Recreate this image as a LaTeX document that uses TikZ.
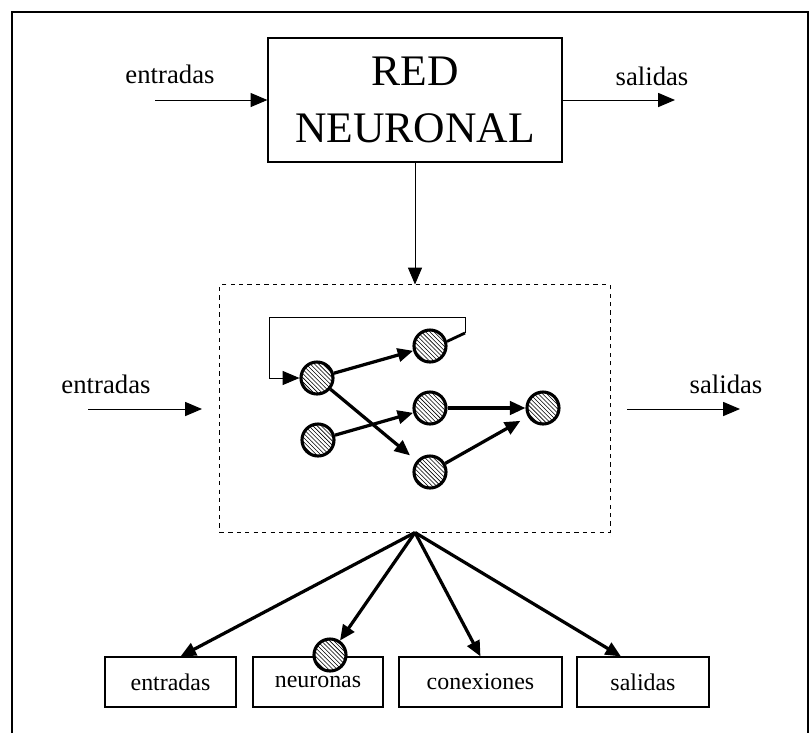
\documentclass[tikz,border=0pt]{standalone}
\usepackage{fontspec}
\setmainfont{Liberation Serif}
\usetikzlibrary{arrows.meta,patterns,calc}

\begin{document}
\begin{tikzpicture}[x=0.025cm,y=-0.025cm,
  flecha/.style={-{Triangle[length=12pt,width=10pt]},line width=0.7pt},
  gruesa/.style={-{Triangle[length=11pt,width=9.5pt]},line width=2.3pt},
  neurona/.style={circle,draw,line width=2.2pt,minimum size=0.8cm,inner sep=0pt,
    preaction={fill=white},pattern=north west lines},
  caja/.style={draw,line width=0.8pt,minimum height=1.25cm,inner sep=0pt,
    font=\fontsize{17}{20}\selectfont},
  etiqueta/.style={font=\fontsize{19}{22}\selectfont,anchor=base,inner sep=0pt}]
\useasboundingbox (0,0) rectangle (810,733);
\draw[line width=0.9pt] (12,733) |- (808,12) -- (808,733);

\node[draw,line width=0.8pt,minimum width=7.35cm,minimum height=3.1cm,align=center,
  font=\fontsize{31}{40}\selectfont] (red) at (415,100) {RED\\NEURONAL};
\coordinate (in1) at (155,100);
\coordinate (out1) at (675,100);
\draw[flecha] (in1) -- (red.west);
\draw[flecha] (red.east) -- (out1);
\node[etiqueta] (tin1) at (170,83) {entradas};
\node[etiqueta] (tout1) at (652,85) {salidas};

\node[draw,dashed,line width=0.7pt,minimum width=9.75cm,minimum height=6.175cm] (malla) at (415,408.5) {};
\draw[flecha] (red.south) -- (malla.north);

\coordinate (in2) at (88,409);
\coordinate (in2e) at (202,409);
\coordinate (out2s) at (627,409);
\coordinate (out2) at (740,409);
\draw[flecha] (in2) -- (in2e);
\draw[flecha] (out2s) -- (out2);
\node[etiqueta] (tin2) at (106,393) {entradas};
\node[etiqueta] (tout2) at (726,393) {salidas};

\node[neurona] (n1) at (317,378) {};
\node[neurona] (n2) at (430,346) {};
\node[neurona] (n3) at (430,408) {};
\node[neurona] (n4) at (318,440) {};
\node[neurona] (n5) at (430,472) {};
\node[neurona] (n6) at (543,408) {};
\draw[gruesa] (n1) -- (n2);
\draw[gruesa,shorten >=6pt] (n1) -- (n5);
\draw[gruesa] (n4) -- (n3);
\draw[gruesa] (n3) -- (n6);
\draw[gruesa,shorten >=6pt] (n5) -- (n6);
\coordinate (r1) at (465,333);
\coordinate (r2) at (465,317);
\coordinate (r3) at (269,317);
\draw[line width=2pt] (n2.15) -- (r1);
\draw[flecha] (r1) -- (r2) -- (r3) |- (n1.west);

\node[caja,minimum width=3.275cm] (ent) at (170.5,682) {entradas};
\node[caja,minimum width=3.25cm] (neu) at (318,682) {neuronas};
\node[caja,minimum width=4.075cm] (con) at (480.5,682) {conexiones};
\node[caja,minimum width=3.3cm] (sal) at (643,682) {salidas};
\node[neurona] (nc) at (330,655) {};
\coordinate (fan) at (malla.south);
\draw[gruesa] (fan) -- ($(ent.north)+(10,0)$);
\draw[gruesa] (fan) -- (nc);
\draw[gruesa] (fan) -- (con.north);
\draw[gruesa] (fan) -- ($(sal.north)+(-22,0)$);
\end{tikzpicture}
\end{document}
